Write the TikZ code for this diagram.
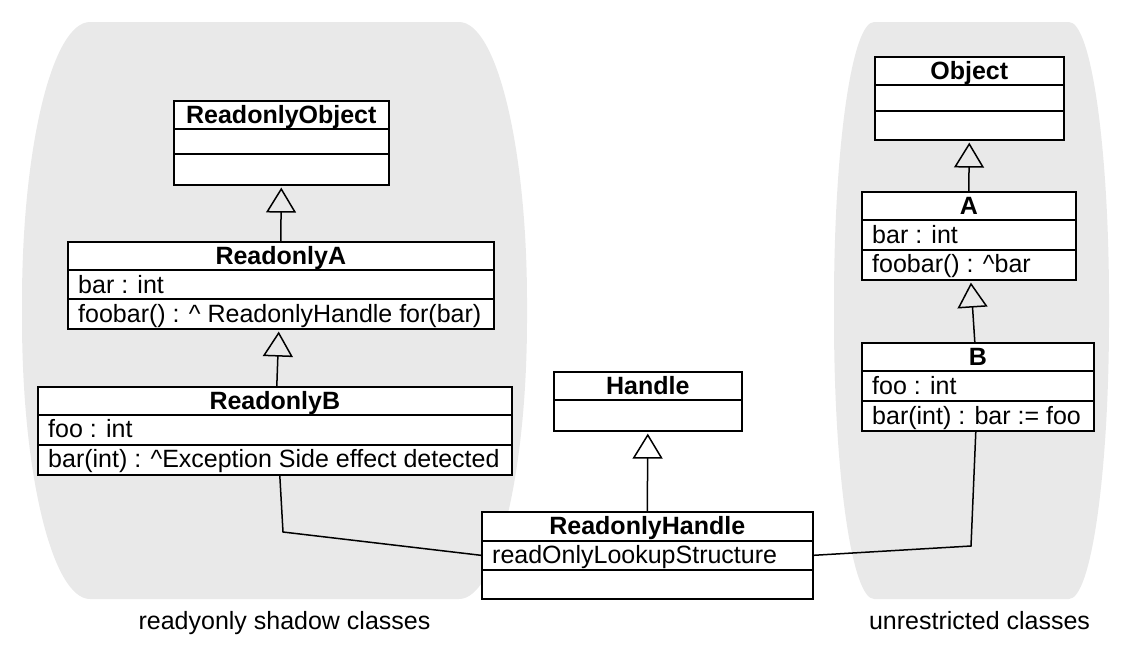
\documentclass[tikz,border=0pt]{standalone}
\usepackage{fontspec}
\setmainfont{Liberation Sans}
\usetikzlibrary{arrows.meta,calc}
\definecolor{regiongray}{RGB}{233,233,233}
\begin{document}
\begin{tikzpicture}[x=1pt,y=-1pt,
  cls/.style={draw, fill=white, line width=1.6pt, inner sep=0pt, anchor=north west},
  div/.style={line width=1.6pt},
  title/.style={font=\bfseries\fontsize{25}{30}\selectfont, inner sep=0pt, anchor=base},
  member/.style={font=\fontsize{25}{30}\selectfont, inner sep=0pt, anchor=base west},
  region/.style={fill=regiongray},
  conn/.style={line width=1.5pt},
  inherit/.style={line width=1.5pt, shorten >=2pt, -{Triangle[open, length=25pt, width=30pt]}},
  caption/.style={font=\fontsize{25}{30}\selectfont, inner sep=0pt, anchor=base}]
\useasboundingbox (0,0) rectangle (1131,654);

% background regions
\fill[region] (90,22) -- (459,22) .. controls (496.6,22) and (527,147.4) .. (527,302)
  -- (527,319) .. controls (527,473.6) and (496.6,599) .. (459,599)
  -- (90,599) .. controls (52.4,599) and (22,473.6) .. (22,319)
  -- (22,302) .. controls (22,147.4) and (52.4,22) .. (90,22) -- cycle;
\fill[region] (874,22) -- (1069,22) .. controls (1091.1,22) and (1109,147.4) .. (1109,302)
  -- (1109,319) .. controls (1109,473.6) and (1091.1,599) .. (1069,599)
  -- (874,599) .. controls (851.9,599) and (834,473.6) .. (834,319)
  -- (834,302) .. controls (834,147.4) and (851.9,22) .. (874,22) -- cycle;

% ReadonlyObject
\node[cls, minimum width=215pt, minimum height=84pt] (rObj) at (173,100) {};
\draw[div] ([yshift=-29pt]rObj.north west) -- ([yshift=-29pt]rObj.north east);
\draw[div] ([yshift=-54pt]rObj.north west) -- ([yshift=-54pt]rObj.north east);
\node[title] (rObjT) at ([yshift=-23pt]rObj.north) {ReadonlyObject};

% ReadonlyA
\node[cls, minimum width=426pt, minimum height=87pt] (rA) at (67,241) {};
\draw[div] ([yshift=-29pt]rA.north west) -- ([yshift=-29pt]rA.north east);
\draw[div] ([yshift=-58pt]rA.north west) -- ([yshift=-58pt]rA.north east);
\node[title] (rAT) at ([yshift=-23pt]rA.north) {ReadonlyA};
\node[member] (rA1) at ([shift={(11pt,-52pt)}]rA.north west) {bar : int};
\node[member] (rA2) at ([shift={(11pt,-81pt)}]rA.north west) {foobar() : \textasciicircum{} ReadonlyHandle for(bar)};

% ReadonlyB
\node[cls, minimum width=474pt, minimum height=88pt] (rB) at (37,386) {};
\draw[div] ([yshift=-29pt]rB.north west) -- ([yshift=-29pt]rB.north east);
\draw[div] ([yshift=-59pt]rB.north west) -- ([yshift=-59pt]rB.north east);
\node[title] (rBT) at ([yshift=-23pt]rB.north) {ReadonlyB};
\node[member] (rB1) at ([shift={(11pt,-51pt)}]rB.north west) {foo : int};
\node[member] (rB2) at ([shift={(11pt,-81pt)}]rB.north west) {bar(int) : \textasciicircum Exception Side effect detected};

% Handle
\node[cls, minimum width=188pt, minimum height=59pt] (hnd) at (553,371) {};
\draw[div] ([yshift=-29pt]hnd.north west) -- ([yshift=-29pt]hnd.north east);
\node[title] (hndT) at ([yshift=-23pt]hnd.north) {Handle};

% ReadonlyHandle
\node[cls, minimum width=331pt, minimum height=87pt] (rH) at (481,511) {};
\draw[div] ([yshift=-30pt]rH.north west) -- ([yshift=-30pt]rH.north east);
\draw[div] ([yshift=-59pt]rH.north west) -- ([yshift=-59pt]rH.north east);
\node[title] (rHT) at ([yshift=-23pt]rH.north) {ReadonlyHandle};
\node[member] (rH1) at ([shift={(11pt,-52pt)}]rH.north west) {readOnlyLookupStructure};

% Object
\node[cls, minimum width=189pt, minimum height=83pt] (obj) at (874,56) {};
\draw[div] ([yshift=-29pt]obj.north west) -- ([yshift=-29pt]obj.north east);
\draw[div] ([yshift=-55pt]obj.north west) -- ([yshift=-55pt]obj.north east);
\node[title] (objT) at ([yshift=-23pt]obj.north) {Object};

% A
\node[cls, minimum width=214pt, minimum height=88pt] (A) at (861,191) {};
\draw[div] ([yshift=-29pt]A.north west) -- ([yshift=-29pt]A.north east);
\draw[div] ([yshift=-59pt]A.north west) -- ([yshift=-59pt]A.north east);
\node[title] (AT) at ([yshift=-23pt]A.north) {A};
\node[member] (A1) at ([shift={(11pt,-52pt)}]A.north west) {bar : int};
\node[member] (A2) at ([shift={(11pt,-81pt)}]A.north west) {foobar() : \textasciicircum bar};

% B
\node[cls, minimum width=232pt, minimum height=88pt] (B) at (861,342) {};
\draw[div] ([yshift=-29pt]B.north west) -- ([yshift=-29pt]B.north east);
\draw[div] ([yshift=-59pt]B.north west) -- ([yshift=-59pt]B.north east);
\node[title] (BT) at ([yshift=-23pt]B.north) {B};
\node[member] (B1) at ([shift={(11pt,-52pt)}]B.north west) {foo : int};
\node[member] (B2) at ([shift={(11pt,-82pt)}]B.north west) {bar(int) : bar := foo};

% generalizations
\draw[inherit] (rA.north) -- (rObj.south);
\draw[inherit] ([xshift=2pt]rB.north) -- ([xshift=-2pt]rA.south);
\draw[inherit] (rH.north) -- (hnd.south);
\draw[inherit] (A.north) -- (obj.south);
\draw[inherit] ([xshift=-3pt]B.north) -- ([xshift=2pt]A.south);

% associations
\coordinate (bl) at (283,532);
\draw[conn] ([xshift=5pt]rB.south) -- (bl) -- (rH.west);
\coordinate (br) at (971,546);
\draw[conn] (rH.east) -- (br) -- ([xshift=-2pt]B.south);

% captions
\node[caption] (capL) at (284.5,629) {readyonly shadow classes};
\node[caption] (capR) at (979.5,629) {unrestricted classes};
\end{tikzpicture}
\end{document}
